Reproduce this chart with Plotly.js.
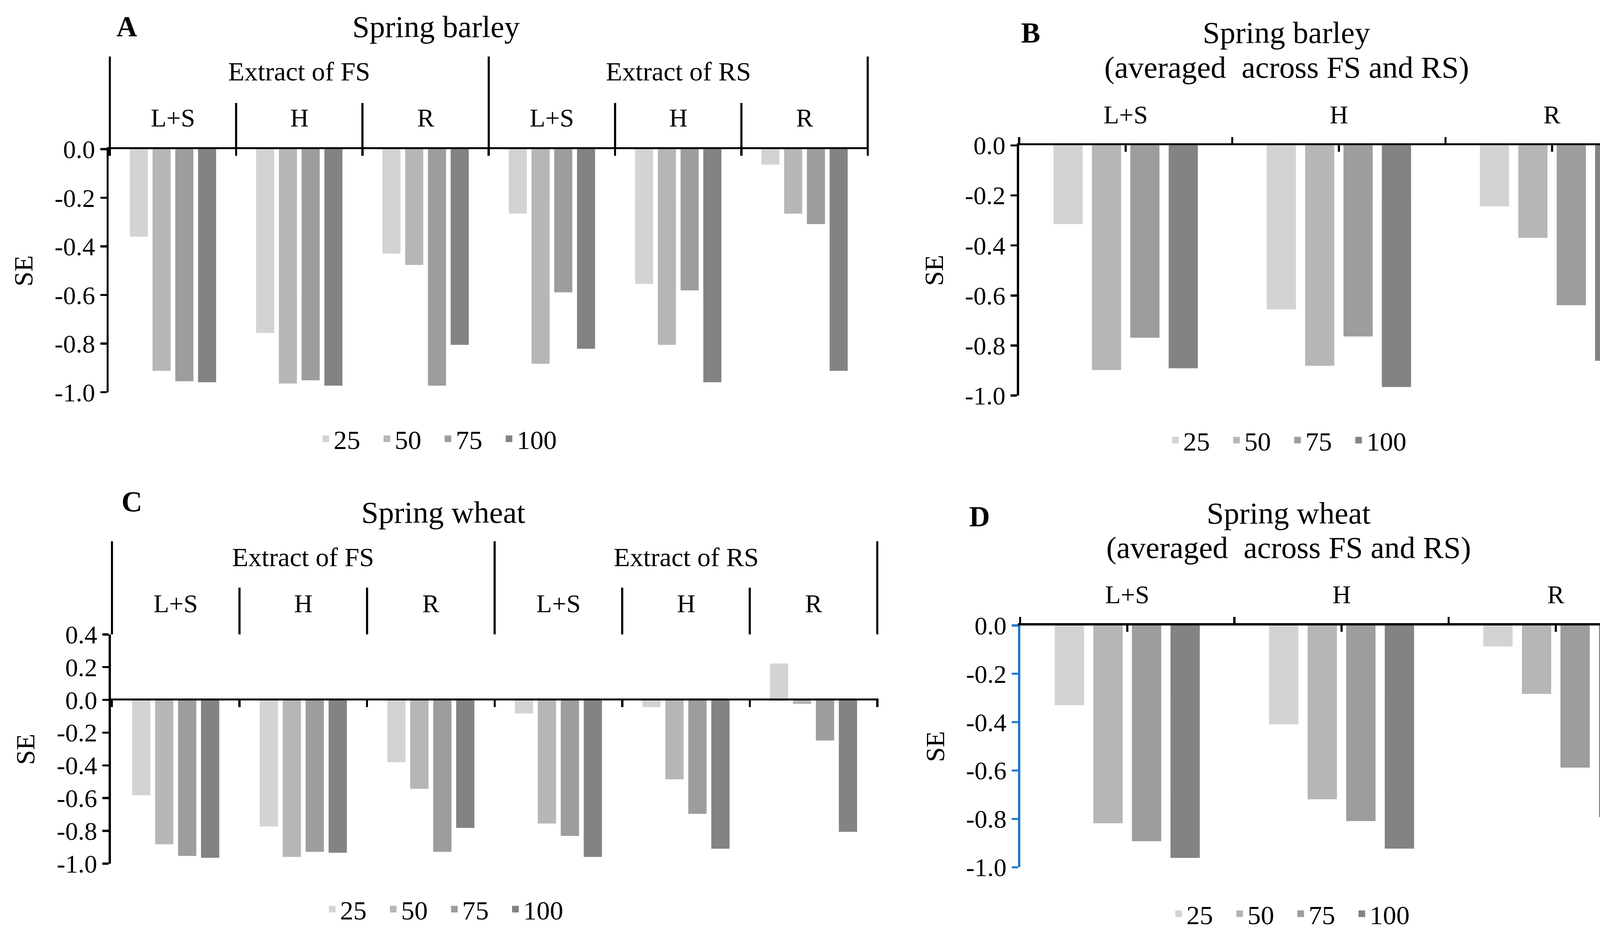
<!DOCTYPE html>
<html>
<head>
<meta charset="utf-8">
<script src="https://cdn.plot.ly/plotly-3.0.1.min.js"></script>
<style>
  html, body { margin: 0; padding: 0; background: #fff; overflow: hidden; }
</style>
</head>
<body>
<div id="chart"></div>
<script>
// categories
const sources = ["Extract of FS", "Extract of RS"];
const parts = ["L+S", "H", "R"];
const doses = ["25", "50", "75", "100"];
const colors = ["#d3d3d3", "#b6b6b6", "#9d9d9d", "#838383"];

// y tick labels (the original uses a plain hyphen)
const tickVals = [0.4, 0.2, 0, -0.2, -0.4, -0.6, -0.8, -1];
const tickText = ["0.4", "0.2", "0.0", "-0.2", "-0.4", "-0.6", "-0.8", "-1.0"];

// A: spring barley, rows = 25/50/75/100, columns = FS (L+S, H, R) then RS (L+S, H, R)
const barleyExtract = [
  [-0.356, -0.752, -0.426, -0.261, -0.550, -0.059],
  [-0.908, -0.960, -0.472, -0.879, -0.801, -0.261],
  [-0.951, -0.947, -0.969, -0.585, -0.577, -0.304],
  [-0.955, -0.969, -0.801, -0.817, -0.955, -0.908]
];
// B: spring barley averaged across FS and RS, columns = L+S, H, R
const barleyAverage = [
  [-0.311, -0.652, -0.240],
  [-0.894, -0.877, -0.366],
  [-0.765, -0.760, -0.635],
  [-0.887, -0.962, -0.857]
];
// C: spring wheat
const wheatExtract = [
  [-0.576, -0.767, -0.375, -0.077, -0.038, 0.216],
  [-0.876, -0.953, -0.537, -0.749, -0.479, -0.019],
  [-0.947, -0.922, -0.922, -0.825, -0.690, -0.242],
  [-0.958, -0.927, -0.776, -0.953, -0.903, -0.800]
];
// D: spring wheat averaged across FS and RS
const wheatAverage = [
  [-0.326, -0.405, -0.083],
  [-0.814, -0.715, -0.279],
  [-0.888, -0.805, -0.584],
  [-0.957, -0.919, -0.788]
];

const extractCats = sources.flatMap(s => parts.map(p => s.slice(-2) + " " + p));
const averageCats = parts.slice();

// positions were measured on a 1568x881 copy, sizes are scaled up by S
const W = 1568, H = 881;
const S = 4279 / W;
const px = x => x / W;
const py = y => 1 - y / H;
const sz = v => v * S;
const serif = "Liberation Serif, Times New Roman, serif";
const avgLine = "(averaged  across FS and RS)";

const panels = [
  {letter: "A", title: ["Spring barley"], titleY: [25], data: barleyExtract, cats: extractCats,
   left: 102, right: 815, top: 140, bottom: 368, range: [-1, 0],
   titleX: 409, letterX: 119, letterY: 25, labelY: 110.6, groupY: 67.2,
   divTop: 53, subTop: 96.6, legX: 413, legY: 411.7, axisColor: "#000"},
  {letter: "B", title: ["Spring barley", avgLine], titleY: [30.5, 63], data: barleyAverage, cats: averageCats,
   left: 956, right: 1556, top: 136.4, bottom: 371.1, range: [-1, 0],
   titleX: 1207, letterX: 967, letterY: 30.8, labelY: 107.8,
   legX: 1210, legY: 413, axisColor: "#000"},
  {letter: "C", title: ["Spring wheat"], titleY: [480.5], data: wheatExtract, cats: extractCats,
   left: 104, right: 824, top: 595.2, bottom: 810.3, range: [-1, 0.4], zeroY: 656,
   titleX: 416, letterX: 123.7, letterY: 470.6, labelY: 566.2, groupY: 522.7,
   divTop: 507.8, subTop: 551.3, legX: 419, legY: 853, axisColor: "#000"},
  {letter: "D", title: ["Spring wheat", avgLine], titleY: [481.5, 513.5], data: wheatAverage, cats: averageCats,
   left: 957, right: 1560, top: 586.8, bottom: 813.7, range: [-1, 0],
   titleX: 1209, letterX: 919, letterY: 484.7, labelY: 557.8,
   legX: 1213, legY: 857.3, axisColor: "#1f77d0"}
];

const traces = [];
const layout = {
  width: 4279, height: 2405,
  margin: {l: 0, r: 0, t: 0, b: 0},
  paper_bgcolor: "#fff", plot_bgcolor: "#fff",
  font: {family: serif, color: "#000", size: sz(24)},
  barmode: "group", bargap: 0.28, bargroupgap: 0.29,
  showlegend: true,
  annotations: [], shapes: []
};

panels.forEach((p, k) => {
  const n = k === 0 ? "" : String(k + 1);
  const xa = "x" + n, ya = "y" + n, leg = "legend" + n;
  const grouped = p.cats.length > parts.length;

  p.data.forEach((vals, d) => {
    traces.push({
      type: "bar", x: p.cats, y: vals, name: doses[d],
      // same-colour outline: widens the bars a little and makes the legend swatch bigger
      marker: {color: colors[d], line: {width: 5, color: colors[d]}},
      xaxis: xa, yaxis: ya, legend: leg, hoverinfo: "skip"
    });
  });

  const xaxis = {
    domain: [px(p.left), px(p.right)], type: "category",
    showgrid: false, zeroline: false, showticklabels: false,
    showline: true, linecolor: "#000", linewidth: sz(2),
    tickson: "boundaries", ticklen: sz(6), tickwidth: sz(2), tickcolor: "#000",
    fixedrange: true
  };
  if (p.zeroY !== undefined) {
    // axis line sits on zero, ticks hang below it
    Object.assign(xaxis, {anchor: "free", position: py(p.zeroY), side: "bottom", ticks: "outside"});
  } else {
    Object.assign(xaxis, {anchor: ya, side: "top", ticks: grouped ? "inside" : "outside"});
  }
  layout["xaxis" + n] = xaxis;

  layout["yaxis" + n] = {
    domain: [py(p.bottom), py(p.top)], anchor: xa, range: p.range,
    tickvals: tickVals, ticktext: tickText,
    ticks: "outside", ticklen: sz(6), tickwidth: sz(2), tickcolor: p.axisColor,
    showline: true, linecolor: p.axisColor, linewidth: sz(2),
    showgrid: false, zeroline: false, ticklabelstandoff: sz(14),
    tickfont: {family: serif, size: sz(24), color: "#000"},
    fixedrange: true
  };

  layout[leg] = {
    orientation: "h", x: px(p.legX), xanchor: "center", y: py(p.legY), yanchor: "middle",
    font: {family: serif, size: sz(25), color: "#000"},
    itemwidth: 30, entrywidth: sz(40.8), entrywidthmode: "pixels",
    bgcolor: "rgba(0,0,0,0)", traceorder: "normal", itemclick: false, itemdoubleclick: false
  };

  const ann = layout.annotations;
  p.title.forEach((t, j) => {
    ann.push({text: t, xref: "paper", yref: "paper", x: px(p.titleX), y: py(p.titleY[j]),
      xanchor: "center", yanchor: "middle", showarrow: false, font: {size: sz(29)}});
  });
  ann.push({text: "<b>" + p.letter + "</b>", xref: "paper", yref: "paper", x: px(p.letterX), y: py(p.letterY),
    xanchor: "center", yanchor: "middle", showarrow: false, font: {size: sz(27)}});
  ann.push({text: "SE", textangle: -90, xref: "paper", yref: "paper", x: px(p.left - 80), y: py((p.top + p.bottom) / 2),
    xanchor: "center", yanchor: "middle", showarrow: false, font: {size: sz(25)}});

  p.cats.forEach((c, i) => {
    ann.push({text: parts[i % parts.length], xref: xa, yref: "paper", x: i, y: py(p.labelY),
      xanchor: "center", yanchor: "middle", showarrow: false, font: {size: sz(24)}});
  });

  const line = {color: "#000", width: sz(2)};
  if (grouped) {
    sources.forEach((s, g) => {
      ann.push({text: s, xref: xa, yref: "paper", x: g * parts.length + (parts.length - 1) / 2, y: py(p.groupY),
        xanchor: "center", yanchor: "middle", showarrow: false, font: {size: sz(25)}});
    });
    for (let b = 0; b <= p.cats.length; b++) {
      const isMain = b % parts.length === 0;
      layout.shapes.push({type: "line", xref: xa, yref: "paper",
        x0: b - 0.5, x1: b - 0.5, y0: py(isMain ? p.divTop : p.subTop), y1: py(p.top), line: line});
    }
  } else {
    // small ticks under the axis line at each category centre
    p.cats.forEach((c, i) => {
      layout.shapes.push({type: "line", xref: xa, yref: "paper",
        x0: i, x1: i, y0: py(p.top), y1: py(p.top + 6), line: line});
    });
  }
});

Plotly.newPlot("chart", traces, layout, {displayModeBar: false, staticPlot: true});
</script>
</body>
</html>
